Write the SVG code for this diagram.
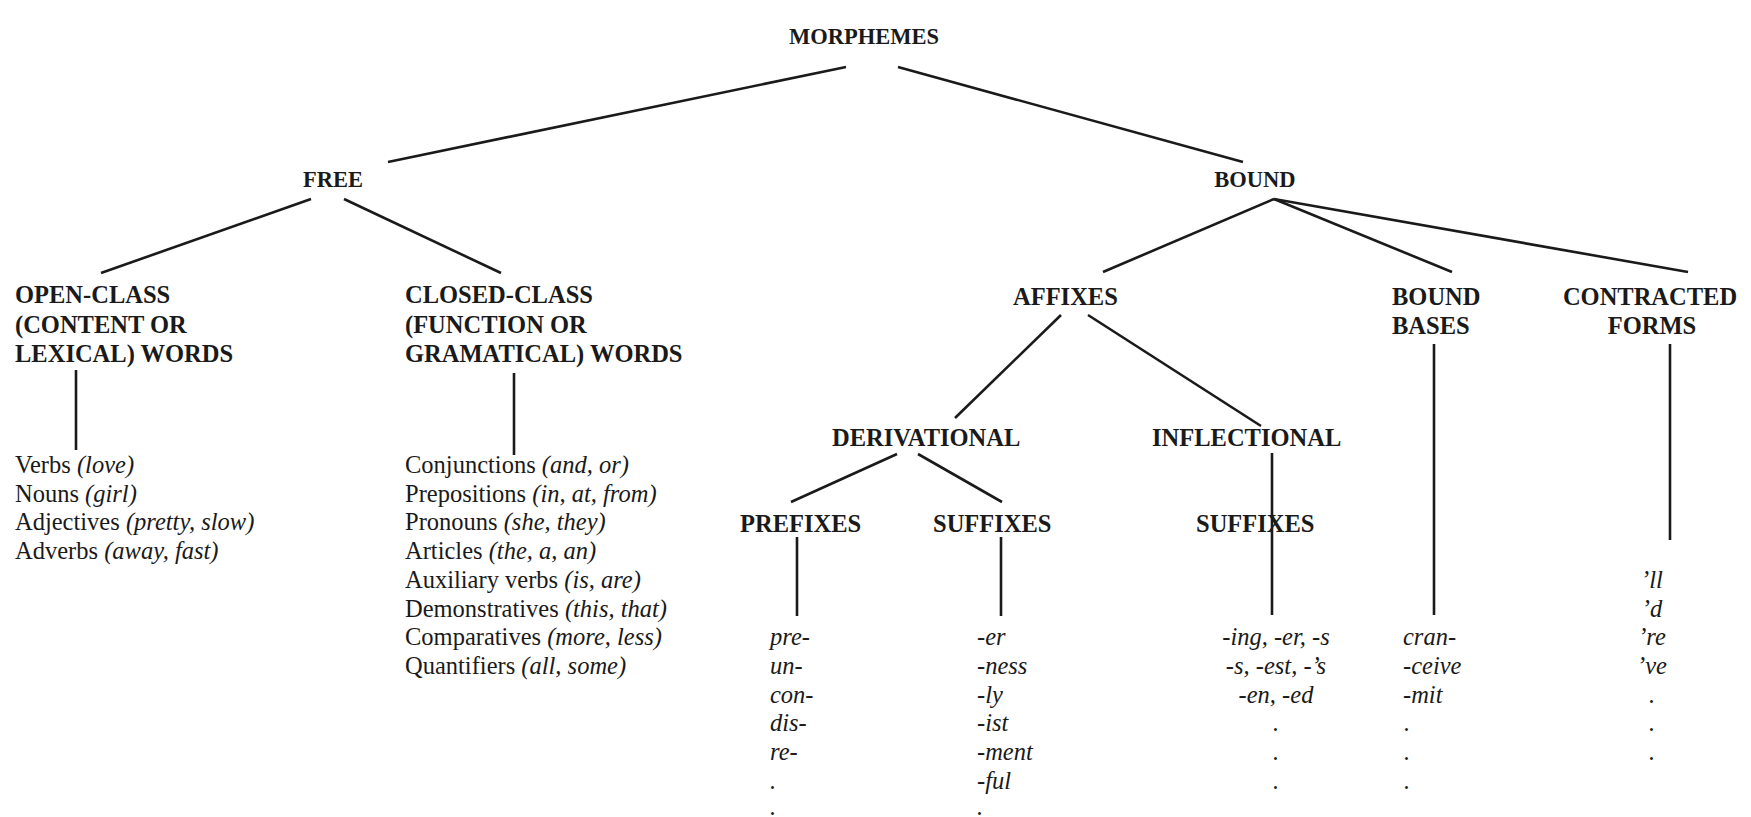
<svg xmlns="http://www.w3.org/2000/svg" width="1751" height="817" viewBox="0 0 1751 817">
<style>
.h{font-family:"Liberation Serif","Times New Roman",serif;font-weight:bold;font-size:24.5px;fill:#1a1a1a}
.top{font-size:22.5px}
.t{font-family:"Liberation Serif","Times New Roman",serif;font-size:24.5px;fill:#1a1a1a}
.i{font-style:italic}
.m{text-anchor:middle}
#connectors line{stroke:#1a1a1a;stroke-width:2.6;fill:none}
</style>
<rect x="0" y="0" width="1751" height="817" fill="#ffffff"/>
<g id="connectors">
<line x1="846" y1="67" x2="388" y2="162"/>
<line x1="898" y1="67" x2="1243" y2="162"/>
<line x1="311" y1="199" x2="101" y2="273"/>
<line x1="344" y1="199" x2="501" y2="273"/>
<line x1="1274" y1="199" x2="1103" y2="272"/>
<line x1="1274" y1="199" x2="1452" y2="272"/>
<line x1="1274" y1="199" x2="1688" y2="272"/>
<line x1="76" y1="370" x2="76" y2="450"/>
<line x1="514" y1="373" x2="514" y2="455"/>
<line x1="1061" y1="315" x2="955" y2="418"/>
<line x1="1088" y1="315" x2="1261" y2="426"/>
<line x1="1434" y1="344" x2="1434" y2="615"/>
<line x1="1670" y1="344" x2="1670" y2="540"/>
<line x1="897" y1="454" x2="791" y2="502"/>
<line x1="918" y1="454" x2="1002" y2="502"/>
<line x1="1272" y1="453" x2="1272" y2="615"/>
<line x1="797" y1="537" x2="797" y2="616"/>
<line x1="1001" y1="537" x2="1001" y2="616"/>
</g>
<g id="morphemes"><text class="h top m" x="864" y="44">MORPHEMES</text></g>
<g id="free"><text class="h top m" x="333" y="187">FREE</text></g>
<g id="bound"><text class="h top m" x="1255" y="187">BOUND</text></g>
<g id="open-class">
<text class="h" x="15" y="303">OPEN-CLASS</text>
<text class="h" x="15" y="332.5">(CONTENT OR</text>
<text class="h" x="15" y="362">LEXICAL) WORDS</text>
</g>
<g id="closed-class">
<text class="h" x="405" y="303">CLOSED-CLASS</text>
<text class="h" x="405" y="332.5">(FUNCTION OR</text>
<text class="h" x="405" y="362">GRAMATICAL) WORDS</text>
</g>
<g id="open-list">
<text class="t" x="15" y="473">Verbs <tspan class="i">(love)</tspan></text>
<text class="t" x="15" y="501.7">Nouns <tspan class="i">(girl)</tspan></text>
<text class="t" x="15" y="530.4">Adjectives <tspan class="i">(pretty, slow)</tspan></text>
<text class="t" x="15" y="559.1">Adverbs <tspan class="i">(away, fast)</tspan></text>
</g>
<g id="closed-list">
<text class="t" x="405" y="473">Conjunctions <tspan class="i">(and, or)</tspan></text>
<text class="t" x="405" y="501.7">Prepositions <tspan class="i">(in, at, from)</tspan></text>
<text class="t" x="405" y="530.4">Pronouns <tspan class="i">(she, they)</tspan></text>
<text class="t" x="405" y="559.1">Articles <tspan class="i">(the, a, an)</tspan></text>
<text class="t" x="405" y="587.8">Auxiliary verbs <tspan class="i">(is, are)</tspan></text>
<text class="t" x="405" y="616.5">Demonstratives <tspan class="i">(this, that)</tspan></text>
<text class="t" x="405" y="645.2">Comparatives <tspan class="i">(more, less)</tspan></text>
<text class="t" x="405" y="673.9">Quantifiers <tspan class="i">(all, some)</tspan></text>
</g>
<g id="affixes"><text class="h" x="1013" y="305">AFFIXES</text></g>
<g id="bound-bases">
<text class="h" x="1392" y="305">BOUND</text>
<text class="h" x="1392" y="334">BASES</text>
</g>
<g id="contracted-forms">
<text class="h m" x="1650" y="305">CONTRACTED</text>
<text class="h m" x="1652" y="334">FORMS</text>
</g>
<g id="derivational"><text class="h" x="832" y="446">DERIVATIONAL</text></g>
<g id="inflectional"><text class="h" x="1152" y="446">INFLECTIONAL</text></g>
<g id="prefixes"><text class="h" x="740" y="532">PREFIXES</text></g>
<g id="der-suffixes"><text class="h" x="933" y="532">SUFFIXES</text></g>
<g id="infl-suffixes"><text class="h" x="1196" y="532">SUFFIXES</text></g>
<g id="prefix-list">
<text class="t i" x="770" y="645.2">pre-</text>
<text class="t i" x="770" y="673.9">un-</text>
<text class="t i" x="770" y="702.6">con-</text>
<text class="t i" x="770" y="731.3">dis-</text>
<text class="t i" x="770" y="760">re-</text>
<text class="t i" x="770" y="788.7">.</text>
<text class="t i" x="770" y="815">.</text>
</g>
<g id="suffix-list">
<text class="t i" x="977" y="645.2">-er</text>
<text class="t i" x="977" y="673.9">-ness</text>
<text class="t i" x="977" y="702.6">-ly</text>
<text class="t i" x="977" y="731.3">-ist</text>
<text class="t i" x="977" y="760">-ment</text>
<text class="t i" x="977" y="788.7">-ful</text>
<text class="t i" x="977" y="815">.</text>
</g>
<g id="infl-list">
<text class="t i m" x="1276" y="645.2">-ing, -er, -s</text>
<text class="t i m" x="1276" y="673.9">-s, -est, -’s</text>
<text class="t i m" x="1276" y="702.6">-en, -ed</text>
<text class="t i m" x="1276" y="731.3">.</text>
<text class="t i m" x="1276" y="760">.</text>
<text class="t i m" x="1276" y="788.7">.</text>
</g>
<g id="bases-list">
<text class="t i" x="1403" y="645.2">cran-</text>
<text class="t i" x="1403" y="673.9">-ceive</text>
<text class="t i" x="1403" y="702.6">-mit</text>
<text class="t i" x="1404" y="731.3">.</text>
<text class="t i" x="1404" y="760">.</text>
<text class="t i" x="1404" y="788.7">.</text>
</g>
<g id="contracted-list">
<text class="t i m" x="1652" y="587.8">’ll</text>
<text class="t i m" x="1652" y="616.5">’d</text>
<text class="t i m" x="1652" y="645.2">’re</text>
<text class="t i m" x="1652" y="673.9">’ve</text>
<text class="t i m" x="1652" y="702.6">.</text>
<text class="t i m" x="1652" y="731.3">.</text>
<text class="t i m" x="1652" y="760">.</text>
</g>
</svg>
